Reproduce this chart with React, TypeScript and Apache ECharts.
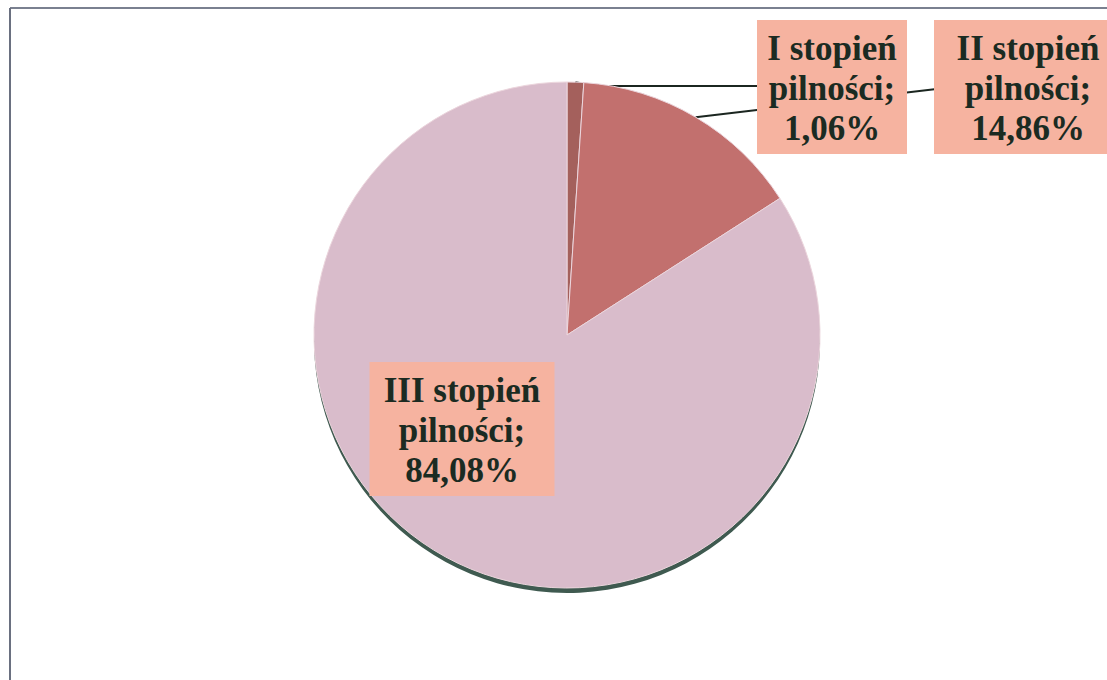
import React, { useEffect, useRef } from "react";
import * as echarts from "echarts";

const categories = ["I stopień pilności", "II stopień pilności", "III stopień pilności"];
const values = [1.06, 14.86, 84.08];
const colors = ["#a4605c", "#c2706e", "#d9bccb"];

// label box centers/tops (layout only)
const labelBoxes = [
  { cx: 832, y: 20, w: 130 },
  { cx: 1028, y: 20, w: 168 },
  { cx: 462, y: 362, w: 165 },
];

export default function App() {
  const ref = useRef<HTMLDivElement>(null);
  useEffect(() => {
    const chart = echarts.init(ref.current!, null, { renderer: "svg" });
    const fmt = (name: string, v: number) =>
      `${name.replace(" pilności", "\npilności")};\n${v.toFixed(2).replace(".", ",")}%`;
    chart.setOption({
      animation: false,
      backgroundColor: "#ffffff",
      graphic: [
        { type: "line", shape: { x1: 10, y1: 8, x2: 1107, y2: 8 }, style: { stroke: "#7a8090", lineWidth: 2 } },
        { type: "line", shape: { x1: 10, y1: 8, x2: 10, y2: 680 }, style: { stroke: "#6a7080", lineWidth: 2 } },
      ],
      series: [
        {
          type: "pie",
          silent: true,
          center: [567, 340],
          radius: 253,
          startAngle: 90,
          z: 1,
          label: { show: false },
          labelLine: { show: false },
          itemStyle: { color: "#3f5a50" },
          data: categories.map((n, i) => ({ name: n, value: values[i] })),
        },
        {
          type: "pie",
          center: [567, 335],
          radius: 253,
          startAngle: 90,
          clockwise: true,
          z: 2,
          itemStyle: { borderColor: "#ecd6dd", borderWidth: 1 },
          label: {
            show: true,
            position: "outside",
            fontFamily: "Liberation Serif",
            fontWeight: "bold",
            fontSize: 35,
            lineHeight: 40,
            color: "#1b2b22",
            align: "center",
            overflow: "none",
            backgroundColor: "#f6b3a0",
            padding: [8, 10, 6, 10],
            formatter: (p: any) => fmt(p.name, p.value),
          },
          labelLine: { show: true, lineStyle: { color: "#1b2620", width: 2 } },
          labelLayout: (params: any) => {
            const i = params.dataIndex;
            const b = labelBoxes[i];
            const start = params.labelLinePoints ? params.labelLinePoints[0] : [0, 0];
            let pts: number[][] | undefined;
            if (i === 0) pts = [start, [start[0] + 20, 86], [757, 86]];
            else if (i === 1) pts = [start, [757, 110], [945, 88]];
            return {
              x: b.cx,
              y: b.y,
              align: "center",
              verticalAlign: "top",
              labelLinePoints: pts,
            };
          },
          data: categories.map((n, i) => ({
            name: n,
            value: values[i],
            itemStyle: { color: colors[i] },
            labelLine: { show: i !== 2 },
            label: { width: labelBoxes[i].w, overflow: "none" },
          })),
        },
      ],
    });
    return () => chart.dispose();
  }, []);
  return <div ref={ref} style={{ position: "fixed", left: 0, top: 0, width: 1107, height: 680 }} />;
}
